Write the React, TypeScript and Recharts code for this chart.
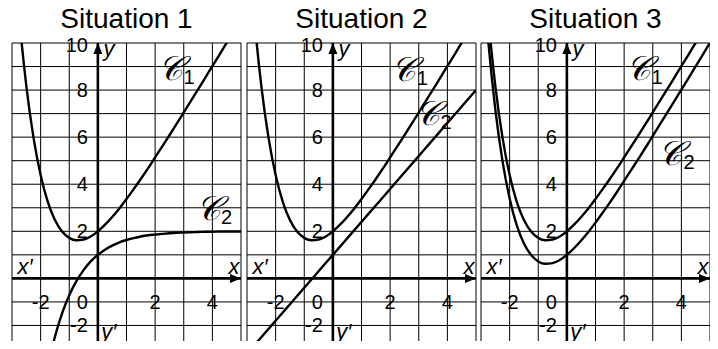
import React from "react";
import {
  LineChart,
  Line,
  XAxis,
  YAxis,
  ReferenceLine,
  ReferenceDot,
} from "recharts";

// sample abscissas shared by every curve
const xs = [
  -3, -2.75, -2.5, -2.25, -2, -1.75, -1.5, -1.25, -1, -0.75, -0.5, -0.25, 0,
  0.25, 0.5, 0.75, 1, 1.25, 1.5, 1.75, 2, 2.25, 2.5, 2.75, 3, 3.25, 3.5, 3.75,
  4, 4.25, 4.5, 4.75, 5,
];

// C1 is the same curve in the three situations
const c1 = [
  15.09, 11.14, 8.18, 5.99, 4.39, 3.25, 2.48, 1.99, 1.72, 1.62, 1.65, 1.78, 2,
  2.28, 2.61, 2.97, 3.37, 3.79, 4.22, 4.67, 5.14, 5.61, 6.08, 6.56, 7.05, 7.54,
  8.03, 8.52, 9.02, 9.51, 10.01, 10.51, 11.01,
];

const c2Situation1 = [
  -18.09, -13.64, -10.18, -7.49, -5.39, -3.75, -2.48, -1.49, -0.72, -0.12,
  0.35, 0.72, 1, 1.22, 1.39, 1.53, 1.63, 1.71, 1.78, 1.83, 1.86, 1.89, 1.92,
  1.94, 1.95, 1.96, 1.97, 1.98, 1.98, 1.99, 1.99, 1.99, 1.99,
];

const c2Situation2 = [
  -3.2, -2.85, -2.5, -2.15, -1.8, -1.45, -1.1, -0.75, -0.4, -0.05, 0.3, 0.65,
  1, 1.35, 1.7, 2.05, 2.4, 2.75, 3.1, 3.45, 3.8, 4.15, 4.5, 4.85, 5.2, 5.55,
  5.9, 6.25, 6.6, 6.95, 7.3, 7.65, 8,
];

const c2Situation3 = [
  14.09, 10.14, 7.18, 4.99, 3.39, 2.25, 1.48, 0.99, 0.72, 0.62, 0.65, 0.78, 1,
  1.28, 1.61, 1.97, 2.37, 2.79, 3.22, 3.67, 4.14, 4.61, 5.08, 5.56, 6.05, 6.54,
  7.03, 7.52, 8.02, 8.51, 9.01, 9.51, 10.01,
];

const xGrid = [-3, -2, -1, 0, 1, 2, 3, 4, 5];
const yGrid = [-3, -2, -1, 0, 1, 2, 3, 4, 5, 6, 7, 8, 9, 10];
const xTickLabels = [-2, 2, 4];
const yTickLabels = [10, 8, 6, 4, 2, -2];
const titles = ["Situation 1", "Situation 2", "Situation 3"];

const FONT = "Liberation Sans";
const PLOT_W = 229;
const PAD = 16;
const TOP = 43;
const H = 350;

const UpArrow = (props: any) => {
  const { x, y } = props.viewBox;
  return <path d={`M${x},${y} L${x - 4.5},${y + 11} L${x + 4.5},${y + 11} Z`} fill="#000" />;
};

const RightArrow = (props: any) => {
  const { x, y, width } = props.viewBox;
  const tx = x + width;
  return <path d={`M${tx},${y} L${tx - 11},${y - 4.5} L${tx - 11},${y + 4.5} Z`} fill="#000" />;
};

function num(text: string, dx: number, dy: number, anchor: string) {
  return (p: any) => (
    <text
      x={p.cx + dx}
      y={p.cy + dy}
      textAnchor={anchor}
      dominantBaseline="central"
      style={{ fontFamily: FONT, fontSize: 20 }}
      fill="#000"
    >
      {text}
    </text>
  );
}

function axisName(text: string, dx: number, dy: number) {
  return (p: any) => (
    <text
      x={p.cx + dx}
      y={p.cy + dy}
      textAnchor="middle"
      style={{ fontFamily: FONT, fontStyle: "italic", fontSize: 22 }}
      fill="#000"
    >
      {text}
    </text>
  );
}

// script C with its index, centred on the spot
function curveName(sub: string) {
  return (p: any) => (
    <g>
      <text
        x={p.cx}
        y={p.cy}
        textAnchor="middle"
        dominantBaseline="central"
        style={{ fontFamily: "DejaVu Sans", fontStyle: "italic", fontSize: 34 }}
        fill="#000"
      >
        𝒞
      </text>
      <text x={p.cx + 13} y={p.cy + 16} style={{ fontFamily: FONT, fontSize: 20 }} fill="#000">
        {sub}
      </text>
    </g>
  );
}

function Panel({ c2, left, c1At, c2At }: any) {
  const data = xs.map((x, i) => ({ x, c1: c1[i], c2: c2[i] }));
  return (
    <div style={{ position: "absolute", left: left - PAD, top: 0 }}>
      <LineChart
        width={PLOT_W + 2 * PAD}
        height={H}
        data={data}
        margin={{ top: TOP, right: PAD, bottom: 1, left: PAD }}
        style={{ overflow: "visible" }}
      >
        <XAxis
          type="number"
          dataKey="x"
          domain={[-3, 5]}
          ticks={xGrid}
          allowDataOverflow
          height={0}
          tick={false}
          tickLine={false}
          axisLine={false}
        />
        <YAxis
          type="number"
          domain={[-3, 10]}
          ticks={yGrid}
          allowDataOverflow
          width={0}
          tick={false}
          tickLine={false}
          axisLine={false}
        />
        {xGrid.map((v) => (
          <ReferenceLine key={"gx" + v} x={v} stroke="#000" strokeWidth={1} />
        ))}
        {yGrid.map((v) => (
          <ReferenceLine key={"gy" + v} y={v} stroke="#000" strokeWidth={1} />
        ))}
        <ReferenceLine y={0} stroke="#000" strokeWidth={2.6} label={<RightArrow />} />
        <ReferenceLine x={0} stroke="#000" strokeWidth={2.6} label={<UpArrow />} />

        {xTickLabels.map((v) => (
          <ReferenceDot key={"x" + v} x={v} y={-1} r={0} ifOverflow="visible" shape={num(String(v), 0, 0, "middle")} />
        ))}
        <ReferenceDot x={0} y={-1} r={0} ifOverflow="visible" shape={num("0", -10, 0, "end")} />
        {yTickLabels.map((v) => (
          <ReferenceDot key={"y" + v} x={0} y={v} r={0} ifOverflow="visible" shape={num(String(v), -10, v === 10 ? 2 : 0, "end")} />
        ))}

        <ReferenceDot x={0} y={10} r={0} ifOverflow="visible" shape={axisName("y", 11, 13)} />
        <ReferenceDot x={0} y={-3} r={0} ifOverflow="visible" shape={axisName("y\u2032", 11, -10)} />
        <ReferenceDot x={-3} y={0} r={0} ifOverflow="visible" shape={axisName("x\u2032", 13, -4)} />
        <ReferenceDot x={5} y={0} r={0} ifOverflow="visible" shape={axisName("x", -7, -4)} />

        <Line dataKey="c1" type="monotone" stroke="#000" strokeWidth={2.4} dot={false} isAnimationActive={false} />
        <Line dataKey="c2" type="monotone" stroke="#000" strokeWidth={2.4} dot={false} isAnimationActive={false} />

        <ReferenceDot x={c1At[0]} y={c1At[1]} r={0} ifOverflow="visible" shape={curveName("1")} />
        <ReferenceDot x={c2At[0]} y={c2At[1]} r={0} ifOverflow="visible" shape={curveName("2")} />
      </LineChart>
    </div>
  );
}

const panelLefts = [12, 247, 481];

export default function App() {
  return (
    <div
      style={{
        position: "relative",
        width: 718,
        height: 349,
        margin: -8,
        overflow: "hidden",
        background: "#fff",
      }}
    >
      <svg width={718} height={40} style={{ position: "absolute", left: 0, top: 0 }}>
        {titles.map((t, i) => (
          <text
            key={t}
            x={panelLefts[i] + PLOT_W / 2}
            y={28}
            textAnchor="middle"
            style={{ fontFamily: FONT, fontSize: 28 }}
            fill="#000"
          >
            {t}
          </text>
        ))}
      </svg>
      <Panel c2={c2Situation1} left={panelLefts[0]} c1At={[2.54, 8.93]} c2At={[3.85, 2.99]} />
      <Panel c2={c2Situation2} left={panelLefts[1]} c1At={[2.48, 8.91]} c2At={[3.31, 7.01]} />
      <Panel c2={c2Situation3} left={panelLefts[2]} c1At={[2.5, 8.93]} c2At={[3.62, 5.31]} />
    </div>
  );
}
